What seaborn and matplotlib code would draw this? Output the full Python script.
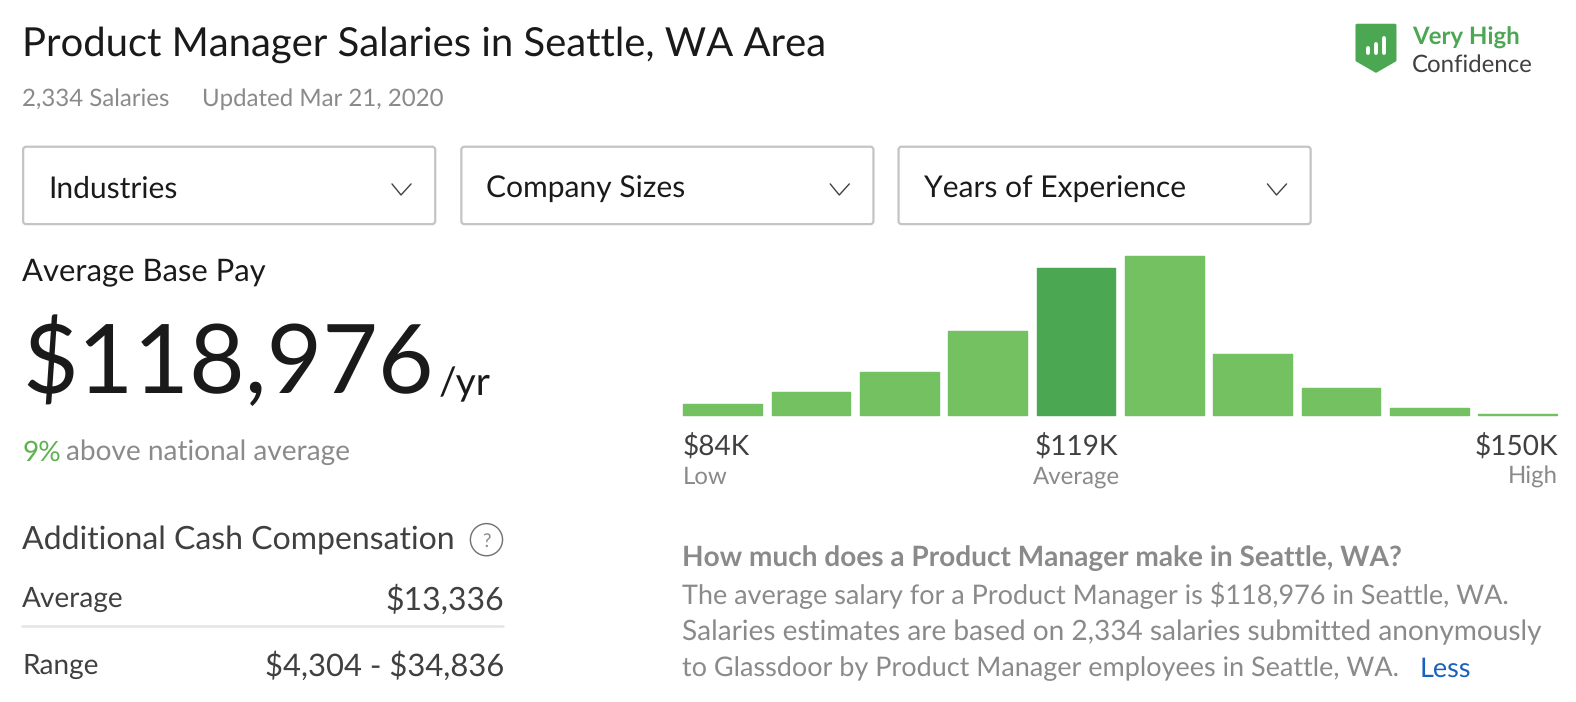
"""Salary summary card with pay histogram."""

import matplotlib
matplotlib.use("Agg")
import matplotlib.pyplot as plt
from matplotlib.patches import FancyBboxPatch, Polygon, Circle
import pandas as pd
import seaborn as sns

W, H = 1576, 702
# layout numbers below were read from a 1568 wide view of the reference
VIEW_W, VIEW_H = 1568, 698.5

# histogram bins
bins = ["b1", "b2", "b3", "b4", "b5", "b6", "b7", "b8", "b9", "b10"]
counts = [11, 23, 43, 83, 146, 158, 61, 27, 7, 1]
highlight = "b5"

filters = ["Industries", "Company Sizes", "Years of Experience"]
filter_left = [23, 459, 894]

GREEN = "#74C162"
DARK_GREEN = "#4BA751"
BLACK = "#1A1A1A"
TEXT = "#404040"
GREY = "#8A8A8A"
BLUE = "#1861BF"

sns.set_theme(style="white")
plt.rcParams["font.family"] = ["Lato", "Open Sans", "DejaVu Sans"]
plt.rcParams["text.hinting"] = "no_hinting"

fig = plt.figure(figsize=(W / 100, H / 100), dpi=100, facecolor="white")

# overlay in pixel coordinates for the card furniture
card = fig.add_axes([0, 0, 1, 1])
card.set_xlim(0, VIEW_W)
card.set_ylim(VIEW_H, 0)
card.axis("off")


def label(x, y, s, px, color=TEXT, ha="left", **kw):
    # px is the font size in image pixels, the renderer rounds it to a whole number
    card.text(x, y, s, fontsize=px * 0.72, color=color, ha=ha, va="baseline",
              parse_math=False, **kw)


label(22, 55.5, "Product Manager Salaries in Seattle, WA Area", 40, BLACK)
label(22, 105, "2,334 Salaries", 24, GREY)
label(201, 105, "Updated Mar 21, 2020", 24, GREY)

# confidence badge
card.add_patch(Polygon([(1350, 25), (1388, 25), (1388, 60), (1369, 71), (1350, 60)],
                       closed=True, fc=DARK_GREEN, ec=DARK_GREEN, lw=2, joinstyle="round"))
for x, top in zip([1361, 1369, 1377], [48, 44, 38]):
    card.plot([x, x], [top, 53], color="white", lw=2.8, solid_capstyle="round")
label(1405, 44, "Very High", 24, DARK_GREEN, fontweight="bold")
label(1405, 71, "Confidence", 24, TEXT)

# filter dropdowns
for name, left in zip(filters, filter_left):
    card.add_patch(FancyBboxPatch((left, 146), 410, 77, boxstyle="round,pad=0,rounding_size=3",
                                  fc="white", ec="#C4C4C4", lw=1.6))
    label(left + 25, 197, name, 30, BLACK)
    card.plot([left + 367, left + 376, left + 386], [183, 194, 183], color=TEXT, lw=1)

label(22, 278.5, "Average Base Pay", 31, BLACK)
label(22, 391, "$118,976", 96, BLACK)
label(436, 393, "/yr", 39, BLACK)
label(22, 458, "9%", 28, "#5DB14E")
label(66, 458, "above national average", 28, GREY)

label(22, 547, "Additional Cash Compensation", 32, TEXT)
card.add_patch(Circle((484, 537), 16, fc="none", ec="#707070", lw=1))
label(484, 544, "?", 19, GREY, ha="center")
label(22, 604, "Average", 28, TEXT)
label(502, 607, "$13,336", 32, TEXT, ha="right")
card.plot([22, 500], [623, 623], color="#E4E4E4", lw=1.8)
label(22, 671, "Range", 28, TEXT)
label(502, 672.5, "$4,304 - $34,836", 31, TEXT, ha="right")

# histogram
df = pd.DataFrame({"bin": bins, "count": counts})
palette = {b: DARK_GREEN if b == highlight else GREEN for b in bins}
hist = fig.add_axes([675 / VIEW_W, 1 - 413.3 / VIEW_H, 879 / VIEW_W, 160 / VIEW_H])
hist.patch.set_alpha(0)
sns.barplot(data=df, x="bin", y="count", hue="bin", palette=palette, legend=False,
            width=0.89, saturation=1, ax=hist)
for bar in hist.patches:
    # same colour edge with a round join gives the soft corners
    bar.set_edgecolor(bar.get_facecolor())
    bar.set_linewidth(1)
    bar.set_joinstyle("round")
    bar.set_clip_on(False)
hist.set_xlim(-0.5, 9.5)
hist.set_ylim(0, 159)
hist.axis("off")

label(679, 453, "$84K", 28, TEXT)
label(679, 481, "Low", 24, GREY)
label(1071, 453, "$119K", 28, TEXT, ha="center")
label(1071, 481, "Average", 24, GREY, ha="center")
label(1550, 453, "$150K", 28, TEXT, ha="right")
label(1550, 481, "High", 24, GREY, ha="right")

label(679, 563, "How much does a Product Manager make in Seattle, WA?", 28, GREY, fontweight="bold")
label(679, 601, "The average salary for a Product Manager is $118,976 in Seattle, WA.", 27, GREY)
label(679, 637, "Salaries estimates are based on 2,334 salaries submitted anonymously", 28, GREY)
label(679, 673, "to Glassdoor by Product Manager employees in Seattle, WA.", 27, GREY)
label(1412, 673, "Less", 27, BLUE)

fig.savefig("out.png", dpi=100)
